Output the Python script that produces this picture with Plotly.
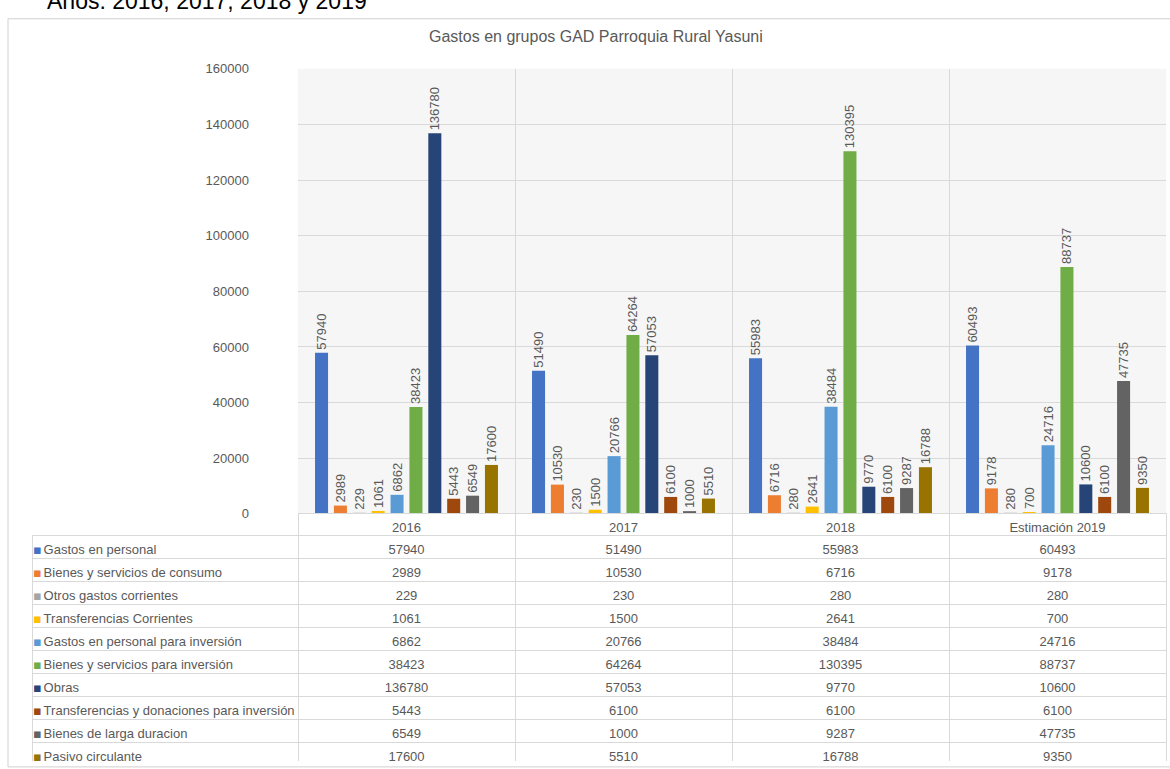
import plotly.graph_objects as go

W, H = 1170, 769

categories = ["2016", "2017", "2018", "Estimación 2019"]

series_names = [
    "Gastos en personal",
    "Bienes y servicios de consumo",
    "Otros gastos corrientes",
    "Transferencias Corrientes",
    "Gastos en personal para inversión",
    "Bienes y servicios para inversión",
    "Obras",
    "Transferencias y donaciones para inversión",
    "Bienes de larga duracion",
    "Pasivo circulante",
]

gastos_personal = [57940, 51490, 55983, 60493]
bienes_consumo = [2989, 10530, 6716, 9178]
otros_gastos = [229, 230, 280, 280]
transf_corrientes = [1061, 1500, 2641, 700]
personal_inversion = [6862, 20766, 38484, 24716]
bienes_inversion = [38423, 64264, 130395, 88737]
obras = [136780, 57053, 9770, 10600]
transf_donaciones = [5443, 6100, 6100, 6100]
bienes_larga = [6549, 1000, 9287, 47735]
pasivo_circulante = [17600, 5510, 16788, 9350]

series_values = [
    gastos_personal, bienes_consumo, otros_gastos, transf_corrientes,
    personal_inversion, bienes_inversion, obras, transf_donaciones,
    bienes_larga, pasivo_circulante,
]

colors = ["#4472C4", "#ED7D31", "#A5A5A5", "#FFC000", "#5B9BD5",
          "#70AD47", "#264478", "#9E480E", "#636363", "#997300"]

y_ticks = [0, 20000, 40000, 60000, 80000, 100000, 120000, 140000, 160000]

TXT = "#595959"
GRID = "#d9d9d9"
FONT = "Liberation Sans, Arial, sans-serif"
CLEAR = "rgba(0,0,0,0)"
FS = 13


def px_x(p):
    return p / W


def px_y(p):
    return 1 - p / H


fig = go.Figure()

for name, vals, col in zip(series_names, series_values, colors):
    fig.add_trace(go.Bar(
        x=categories, y=vals, name=name,
        marker=dict(color=col, line=dict(width=0)),
        text=[str(v) for v in vals],
        textposition="outside", textangle=-90,
        textfont=dict(color=TXT, size=FS, family=FONT),
        constraintext="none", cliponaxis=False,
        showlegend=False,
    ))

# data table below the chart (non-breaking spaces keep each label on one line)
label_cells = ["\u00a0" + n.replace(" ", "\u00a0") for n in series_names]
col_values = [label_cells]
for i in range(len(categories)):
    col_values.append([str(vals[i]) for vals in series_values])

table_y = [0, px_y(517)]

fig.add_trace(go.Table(
    domain=dict(x=[px_x(32), px_x(1166)], y=table_y),
    columnwidth=[266, 217, 217, 217, 217],
    header=dict(
        values=[""] + categories,
        height=22,
        align="center",
        fill=dict(color=[CLEAR] + ["white"] * 4),
        line=dict(color=[CLEAR] + [GRID] * 4, width=1),
        font=dict(color=TXT, size=FS, family=FONT),
    ),
    cells=dict(
        values=col_values,
        height=23,
        align=["left", "center", "center", "center", "center"],
        fill=dict(color="white"),
        line=dict(color=GRID, width=1),
        font=dict(color=TXT, size=FS, family=FONT),
    ),
))

# legend keys of the data table (coloured squares) laid over the first column
fig.add_trace(go.Table(
    domain=dict(x=[px_x(25), px_x(58)], y=table_y),
    header=dict(values=[""], height=22,
                fill=dict(color=CLEAR), line=dict(color=CLEAR, width=0)),
    cells=dict(
        values=[["\u25aa"] * len(series_names)],
        height=23,
        align="left",
        fill=dict(color=CLEAR),
        line=dict(color=CLEAR, width=0),
        font=dict(color=[colors], size=FS, family="DejaVu Sans"),
    ),
))

fig.update_layout(
    width=W, height=H,
    margin=dict(l=0, r=0, t=0, b=0),
    paper_bgcolor="white",
    plot_bgcolor="#f6f6f6",
    barmode="group",
    bargap=0.13,
    bargroupgap=0.31,
    font=dict(family=FONT, color=TXT),
    xaxis=dict(
        domain=[px_x(298), px_x(1166)],
        type="category",
        tickson="boundaries",
        showgrid=True, gridcolor=GRID, gridwidth=1,
        showticklabels=False, ticks="",
        showline=False, zeroline=False,
    ),
    yaxis=dict(
        domain=[px_y(517), px_y(63)],
        range=[0, 160000],
        tickvals=y_ticks,
        tickformat="d",
        showgrid=True, gridcolor=GRID, gridwidth=1,
        zeroline=True, zerolinecolor=GRID, zerolinewidth=1,
        showline=False, ticks="",
        ticklabelstandoff=48,
        tickfont=dict(color=TXT, size=FS, family=FONT),
    ),
    annotations=[
        dict(text="Gastos en grupos GAD Parroquia Rural Yasuni",
             xref="paper", yref="paper", x=px_x(596), y=px_y(30),
             xanchor="center", yanchor="middle", showarrow=False,
             font=dict(color=TXT, size=16, family=FONT)),
        dict(text="Años: 2016, 2017, 2018 y 2019",
             xref="paper", yref="paper", x=px_x(45), y=px_y(-6),
             xanchor="left", yanchor="middle", showarrow=False,
             font=dict(color="#000000", size=23, family=FONT)),
    ],
    shapes=[
        dict(type="rect", xref="paper", yref="paper",
             x0=px_x(8), x1=px_x(1175), y0=px_y(775), y1=px_y(12),
             line=dict(color="#d0d0d0", width=1), fillcolor=CLEAR,
             layer="below"),
    ],
)

fig.write_html(
    "out.html",
    config={"displayModeBar": False},
    post_script="document.documentElement.style.margin='0';"
                "document.body.style.margin='0';"
                "document.body.style.overflow='hidden';",
)
